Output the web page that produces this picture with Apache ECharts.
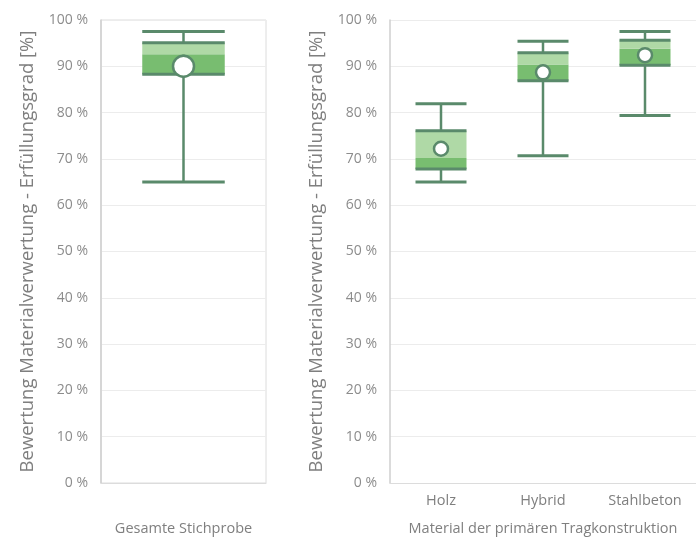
<!DOCTYPE html>
<html><head><meta charset="utf-8">
<script src="https://cdn.jsdelivr.net/npm/echarts@6/dist/echarts.min.js"></script>
<style>html,body{margin:0;padding:0;background:#fff}#c{width:696px;height:541px}</style>
</head><body><div id="c"></div>
<script>
// values: [min, Q1, median, Q3, max, mean] in %
const catsTotal = [''];
const catsMaterial = ['Holz', 'Hybrid', 'Stahlbeton'];
const gesamt = [65.0, 88.3, 92.6, 95.1, 97.5, 90.0];
const holz = [65.0, 67.8, 70.2, 76.1, 81.9, 72.2];
const hybrid = [70.7, 86.9, 90.4, 92.9, 95.4, 88.7];
const stahlbeton = [79.4, 90.2, 93.8, 95.6, 97.5, 92.4];
const yTicks = [0, 10, 20, 30, 40, 50, 60, 70, 80, 90, 100];

const LINE = '#5a8a6b', DARK = '#78bd70', LIGHT = '#afd9a6';
const FONT = 'Open Sans';

function makeRender(radius) {
  return function (params, api) {
    const idx = api.value(0);
    const bw = api.size([1, 0])[0];
    const half = bw * 0.25;
    const x = api.coord([idx, 0])[0];
    const y = i => api.coord([idx, api.value(i)])[1];
    const yMin = y(1), yQ1 = y(2), yMed = y(3), yQ3 = y(4), yMax = y(5), yMean = y(6);
    const ln = (x1, y1, x2, y2, w) => ({type: 'line', shape: {x1, y1, x2, y2}, style: {stroke: LINE, lineWidth: w}});
    return {type: 'group', children: [
      ln(x, yMax, x, yMin, 2.5),
      ln(x - half, yMax, x + half, yMax, 3),
      ln(x - half, yMin, x + half, yMin, 3),
      {type: 'rect', shape: {x: x - half, y: yMed, width: 2 * half, height: yQ1 - yMed}, style: {fill: DARK}},
      {type: 'rect', shape: {x: x - half, y: yQ3, width: 2 * half, height: yMed - yQ3}, style: {fill: LIGHT}},
      ln(x - half, yQ1, x + half, yQ1, 3),
      ln(x - half, yQ3, x + half, yQ3, 3),
      {type: 'circle', shape: {cx: x, cy: yMean, r: radius}, style: {fill: '#fff', stroke: LINE, lineWidth: 2.5}}
    ]};
  };
}

const yAxisBase = {
  type: 'value', min: 0, max: 100, interval: 10,
  name: 'Bewertung Materialverwertung - Erfüllungsgrad [%]',
  nameLocation: 'middle', nameGap: 64, nameRotate: 90,
  nameTextStyle: {color: '#7f7f7f', fontSize: 18.5, fontFamily: FONT},
  axisLine: {show: true, lineStyle: {color: '#cfcfcf', width: 1.5}},
  axisTick: {show: false},
  axisLabel: {color: '#8c8c8c', fontSize: 14, fontFamily: FONT, margin: 13,
    formatter: v => yTicks.includes(v) ? v + ' %' : ''},
  splitLine: {lineStyle: {color: '#ececec'}}
};
const xAxisBase = {
  type: 'category', nameLocation: 'middle', nameGap: 38,
  nameTextStyle: {color: '#7f7f7f', fontSize: 14.5, fontFamily: FONT},
  axisLine: {show: true, lineStyle: {color: '#dcdcdc'}},
  axisTick: {show: false},
  axisLabel: {color: '#7f7f7f', fontSize: 14.5, fontFamily: FONT, margin: 10}
};

const chart = echarts.init(document.getElementById('c'), null, {renderer: 'canvas'});
chart.setOption({
  animation: false,
  grid: [
    {left: 101, top: 20, width: 165, height: 467, show: true, borderColor: '#dcdcdc', borderWidth: 1},
    {left: 390, top: 20, width: 315, height: 467}
  ],
  xAxis: [
    Object.assign({}, xAxisBase, {gridIndex: 0, data: catsTotal, name: 'Gesamte Stichprobe'}),
    Object.assign({}, xAxisBase, {gridIndex: 1, data: catsMaterial, name: 'Material der primären Tragkonstruktion'})
  ],
  yAxis: [
    Object.assign({}, yAxisBase, {gridIndex: 0}),
    Object.assign({}, yAxisBase, {gridIndex: 1})
  ],
  series: [
    {type: 'custom', xAxisIndex: 0, yAxisIndex: 0, renderItem: makeRender(10.5),
      encode: {x: 0, y: [1, 2, 3, 4, 5, 6]},
      data: [[0].concat(gesamt)]},
    {type: 'custom', xAxisIndex: 1, yAxisIndex: 1, renderItem: makeRender(7),
      encode: {x: 0, y: [1, 2, 3, 4, 5, 6]},
      data: [[0].concat(holz), [1].concat(hybrid), [2].concat(stahlbeton)]}
  ]
});
</script></body></html>
